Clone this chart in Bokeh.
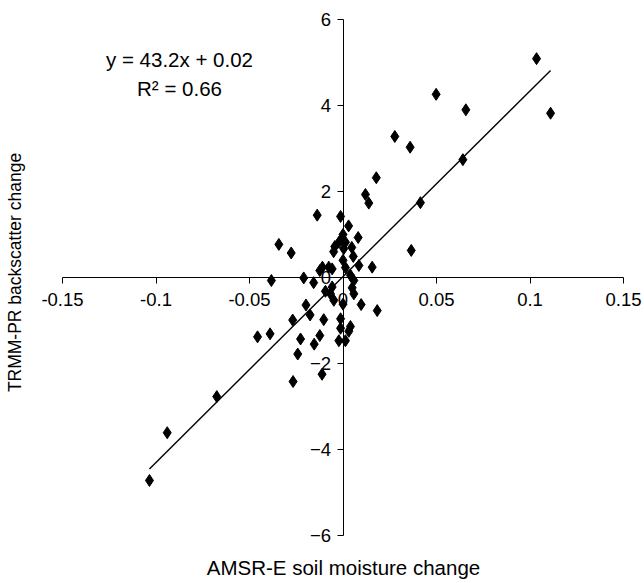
import math
from bokeh.plotting import figure
from bokeh.models import (LinearAxis, FixedTicker, CustomJSTickFormatter,
                          Label, ColumnDataSource, Range1d)
from bokeh.embed import file_html
from bokeh.resources import INLINE

# AMSR-E soil moisture change (x) vs TRMM-PR backscatter change (y)
x_change = [0.1035, 0.111, 0.0498, 0.0657, 0.0277, 0.0359, 0.0178, 0.0641, 0.012, 0.0138,
            0.0414, 0.0365,
            -0.0138, -0.0013, 0.003, 0.0, -0.001, 0.0081, -0.0022, 0.0013, -0.0343, -0.0277,
            -0.0044, -0.005, 0.0004, 0.0047, 0.0055, 0.0, -0.011, -0.0076, -0.0058, 0.0013,
            0.0085, 0.0156, 0.004, -0.0124,
            -0.0383, -0.021, -0.0157, 0.0058, -0.0058, -0.0094, -0.0067, -0.0049, 0.0049,
            0.0058, 0.0097, 0.0183, 0.0, -0.0013, -0.0103, -0.0176, -0.0198, -0.0269,
            -0.0013, 0.004, 0.0031, -0.0124, -0.0154, -0.0022, 0.0013, -0.0457, -0.039,
            -0.0227, -0.0242, -0.0112, -0.0267, -0.0675, -0.094, -0.1035]
y_change = [5.09, 3.82, 4.26, 3.90, 3.28, 3.03, 2.32, 2.74, 1.93, 1.73,
            1.74, 0.63,
            1.45, 1.42, 1.20, 1.0, 0.88, 0.93, 0.82, 0.82, 0.77, 0.57,
            0.72, 0.60, 0.67, 0.70, 0.49, 0.40, 0.24, 0.24, 0.20, 0.23,
            0.28, 0.24, 0.05, 0.16,
            -0.07, -0.01, -0.12, -0.07, -0.22, -0.32, -0.38, -0.53, -0.24,
            -0.38, -0.63, -0.77, -0.62, -0.96, -0.98, -0.87, -0.64, -0.99,
            -1.18, -1.14, -1.25, -1.35, -1.55, -1.47, -1.47, -1.38, -1.31,
            -1.43, -1.78, -2.25, -2.42, -2.77, -3.61, -4.72]

slope = 43.2
intercept = 0.02
equation_lines = ["y = 43.2x + 0.02", "R\u00b2 = 0.66"]
x_ticks = [-0.15, -0.1, -0.05, 0, 0.05, 0.1, 0.15]
y_ticks = [-6, -4, -2, 0, 2, 4, 6]
x_title = "AMSR-E soil moisture change"
y_title = "TRMM-PR backscatter change"

FONT = "Liberation Sans"
W, H = 644, 583
# pixel placement of the axes: x=0 at 342.5px, 1870 px per unit; y=0 at 277px, 43 px per unit
X0, XS, Y0, YS = 342.5, 1870.0, 277.0, 43.0

p = figure(width=W, height=H,
           x_range=Range1d(-X0 / XS, (W - X0) / XS),
           y_range=Range1d((Y0 - H) / YS, Y0 / YS),
           x_axis_type=None, y_axis_type=None,
           toolbar_location=None, output_backend="svg",
           min_border=0, min_border_left=0, min_border_right=0,
           min_border_top=0, min_border_bottom=0)
p.outline_line_color = None
p.background_fill_color = "white"
p.border_fill_color = "white"

fmt = CustomJSTickFormatter(code="return String(Math.round(tick*100)/100);")

xaxis = LinearAxis(fixed_location=0, ticker=FixedTicker(ticks=x_ticks), formatter=fmt,
                   bounds=(x_ticks[0], x_ticks[-1]))
xaxis.major_tick_in = 0
xaxis.major_tick_out = 6
xaxis.minor_tick_line_color = None
xaxis.axis_line_color = "black"
xaxis.major_tick_line_color = "black"
xaxis.major_label_text_font = FONT
xaxis.major_label_text_font_size = "18.5px"
xaxis.major_label_text_color = "black"
xaxis.major_label_standoff = 9
p.add_layout(xaxis, "below")

yaxis = LinearAxis(fixed_location=0, ticker=FixedTicker(ticks=y_ticks),
                   bounds=(y_ticks[0], y_ticks[-1]))
yaxis.major_tick_in = 0
yaxis.major_tick_out = 6
yaxis.minor_tick_line_color = None
yaxis.axis_line_color = "black"
yaxis.major_tick_line_color = "black"
yaxis.major_label_text_font = FONT
yaxis.major_label_text_font_size = "18.5px"
yaxis.major_label_text_color = "black"
yaxis.major_label_standoff = 6
p.add_layout(yaxis, "left")

src = ColumnDataSource(data=dict(x=x_change, y=y_change))
p.scatter("x", "y", source=src, marker="diamond", size=12, color="black")

xl = [min(x_change), max(x_change)]
yl = [slope * v + intercept for v in xl]
p.line(xl, yl, line_color="black", line_width=1.4)

eq_x = (179 - X0) / XS
for txt, py in zip(equation_lines, [59, 88]):
    p.add_layout(Label(x=eq_x, y=(Y0 - py) / YS, text=txt, text_align="center",
                       text_baseline="middle", text_font=FONT, text_font_size="20.5px",
                       text_color="black"))

p.add_layout(Label(x=(343 - X0) / XS, y=(Y0 - 567) / YS, text=x_title,
                   text_align="center", text_baseline="middle", text_font=FONT,
                   text_font_size="20.5px", text_color="black"))
p.add_layout(Label(x=(14 - X0) / XS, y=(Y0 - 272) / YS, text=y_title, angle=math.pi / 2,
                   text_align="center", text_baseline="middle", text_font=FONT,
                   text_font_size="17.5px", text_color="black"))

open("out.html", "w").write(file_html(p, INLINE))
